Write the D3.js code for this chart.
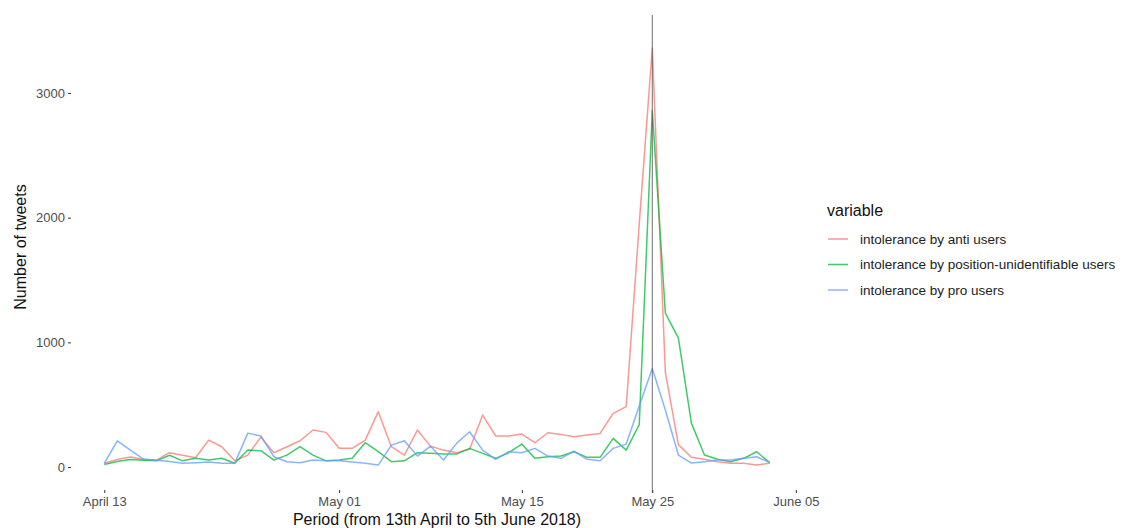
<!DOCTYPE html>
<html>
<head>
<meta charset="utf-8">
<script src="https://cdn.jsdelivr.net/npm/d3@7"></script>
<style>
  body { margin: 0; background: #fff; }
  svg { font-family: "Liberation Sans", Arial, sans-serif; }
</style>
</head>
<body>
<div id="chart"></div>
<script>
const width = 1122;
const height = 528;

// daily dates, 13 April to 3 June 2018
const dates = [
	"2018-04-13", "2018-04-14", "2018-04-15", "2018-04-16", "2018-04-17", "2018-04-18", "2018-04-19",
	"2018-04-20", "2018-04-21", "2018-04-22", "2018-04-23", "2018-04-24", "2018-04-25", "2018-04-26",
	"2018-04-27", "2018-04-28", "2018-04-29", "2018-04-30", "2018-05-01", "2018-05-02", "2018-05-03",
	"2018-05-04", "2018-05-05", "2018-05-06", "2018-05-07", "2018-05-08", "2018-05-09", "2018-05-10",
	"2018-05-11", "2018-05-12", "2018-05-13", "2018-05-14", "2018-05-15", "2018-05-16", "2018-05-17",
	"2018-05-18", "2018-05-19", "2018-05-20", "2018-05-21", "2018-05-22", "2018-05-23", "2018-05-24",
	"2018-05-25", "2018-05-26", "2018-05-27", "2018-05-28", "2018-05-29", "2018-05-30", "2018-05-31",
	"2018-06-01", "2018-06-02", "2018-06-03"
];

const antiUsers = [
	30, 60, 80, 60, 55, 115, 95, 75, 216, 163, 50, 96, 240, 115,
	163, 211, 297, 278, 150, 150, 216, 444, 163, 96, 297, 168, 136, 115,
	142, 417, 249, 249, 265, 195, 275, 262, 243, 257, 270, 430, 484, 1950,
	3360, 760, 180, 78, 62, 43, 30, 30, 16, 30
];
const unidentUsers = [
	20, 45, 60, 55, 50, 95, 50, 70, 56, 70, 30, 136, 131, 56,
	96, 163, 96, 50, 56, 70, 195, 123, 43, 50, 115, 110, 104, 104,
	150, 110, 70, 115, 184, 70, 83, 88, 123, 78, 78, 230, 136, 340,
	2860, 1235, 1034, 350, 96, 62, 43, 70, 123, 35
];
const proUsers = [
	30, 210, 136, 64, 55, 45, 30, 35, 40, 30, 30, 272, 249, 83,
	43, 35, 56, 50, 50, 40, 30, 16, 176, 211, 88, 168, 56, 190,
	283, 136, 62, 123, 115, 150, 88, 70, 128, 62, 51, 150, 184, 490,
	790, 457, 96, 32, 43, 56, 56, 70, 83, 35
];

const seriesNames = [
	"intolerance by anti users",
	"intolerance by position-unidentifiable users",
	"intolerance by pro users"
];
const seriesColors = ["#F8766D", "#00BA38", "#619CFF"];

const xTickDates = ["2018-04-13", "2018-05-01", "2018-05-15", "2018-05-25", "2018-06-05"];
const xTickLabels = ["April 13", "May 01", "May 15", "May 25", "June 05"];
const yTicks = [0, 1000, 2000, 3000];
const markDate = "2018-05-25";

const panel = { left: 71, right: 803, top: 15, bottom: 490 };

const parse = d3.utcParse("%Y-%m-%d");
const days = dates.map(parse);

const series = [antiUsers, unidentUsers, proUsers].map((vals, i) => ({
	name: seriesNames[i],
	color: seriesColors[i],
	values: vals.map((v, j) => ({ date: days[j], value: v }))
}));

// ggplot style 5% expansion on the time axis
const first = days[0], last = days[days.length - 1];
const pad = (last - first) * 0.05;
const x = d3.scaleUtc()
	.domain([new Date(+first - pad), new Date(+last + pad)])
	.range([panel.left, panel.right]);

const y = d3.scaleLinear()
	.domain([-184, 3625])
	.range([panel.bottom, panel.top]);

const svg = d3.select("#chart")
	.append("svg")
	.attr("width", width)
	.attr("height", height);

// y axis
const yAxis = svg.append("g")
	.attr("transform", `translate(${panel.left},0)`)
	.call(d3.axisLeft(y).tickValues(yTicks).tickSize(3).tickPadding(3).tickFormat(d3.format("d")));
yAxis.select(".domain").remove();
yAxis.selectAll("line").attr("stroke", "#333");
yAxis.selectAll("text")
	.attr("fill", "#4d4d4d")
	.style("font-size", "13px");

// x axis
const xAxis = svg.append("g")
	.attr("transform", `translate(0,${panel.bottom})`)
	.call(d3.axisBottom(x)
		.tickValues(xTickDates.map(parse))
		.tickSize(3)
		.tickPadding(4)
		.tickFormat((d, i) => xTickLabels[i]));
xAxis.select(".domain").remove();
xAxis.selectAll("line").attr("stroke", "#333");
xAxis.selectAll("text")
	.attr("fill", "#4d4d4d")
	.style("font-size", "13px");

// axis titles
svg.append("text")
	.attr("x", (panel.left + panel.right) / 2)
	.attr("y", 525)
	.attr("text-anchor", "middle")
	.style("font-size", "16px")
	.attr("fill", "#111")
	.text("Period (from 13th April to 5th June 2018)");

svg.append("text")
	.attr("transform", "translate(26,247) rotate(-90)")
	.attr("text-anchor", "middle")
	.style("font-size", "16px")
	.attr("fill", "#111")
	.text("Number of tweets");

// lines
const line = d3.line()
	.x(d => x(d.date))
	.y(d => y(d.value));

svg.append("g")
	.selectAll("path")
	.data(series)
	.join("path")
	.attr("d", d => line(d.values))
	.attr("fill", "none")
	.attr("stroke", d => d.color)
	.attr("stroke-opacity", 0.75)
	.attr("stroke-width", 1.5)
	.attr("stroke-linejoin", "round");

// vertical marker at 25 May
svg.append("line")
	.attr("x1", x(parse(markDate)))
	.attr("x2", x(parse(markDate)))
	.attr("y1", panel.top)
	.attr("y2", panel.bottom + 3)
	.attr("stroke", "#555")
	.attr("stroke-opacity", 0.85)
	.attr("stroke-width", 1);

// legend
const legend = svg.append("g").attr("transform", "translate(827,0)");
legend.append("text")
	.attr("x", 0)
	.attr("y", 216)
	.style("font-size", "16px")
	.attr("fill", "#111")
	.text("variable");

const item = legend.selectAll("g.item")
	.data(series)
	.join("g")
	.attr("class", "item")
	.attr("transform", (d, i) => `translate(0,${239 + i * 25.5})`);
item.append("line")
	.attr("x1", 1)
	.attr("x2", 21)
	.attr("stroke", d => d.color)
	.attr("stroke-opacity", 0.75)
	.attr("stroke-width", 1.5);
item.append("text")
	.attr("x", 33)
	.attr("dy", "0.35em")
	.style("font-size", "13.5px")
	.attr("fill", "#222")
	.text(d => d.name);
</script>
</body>
</html>
